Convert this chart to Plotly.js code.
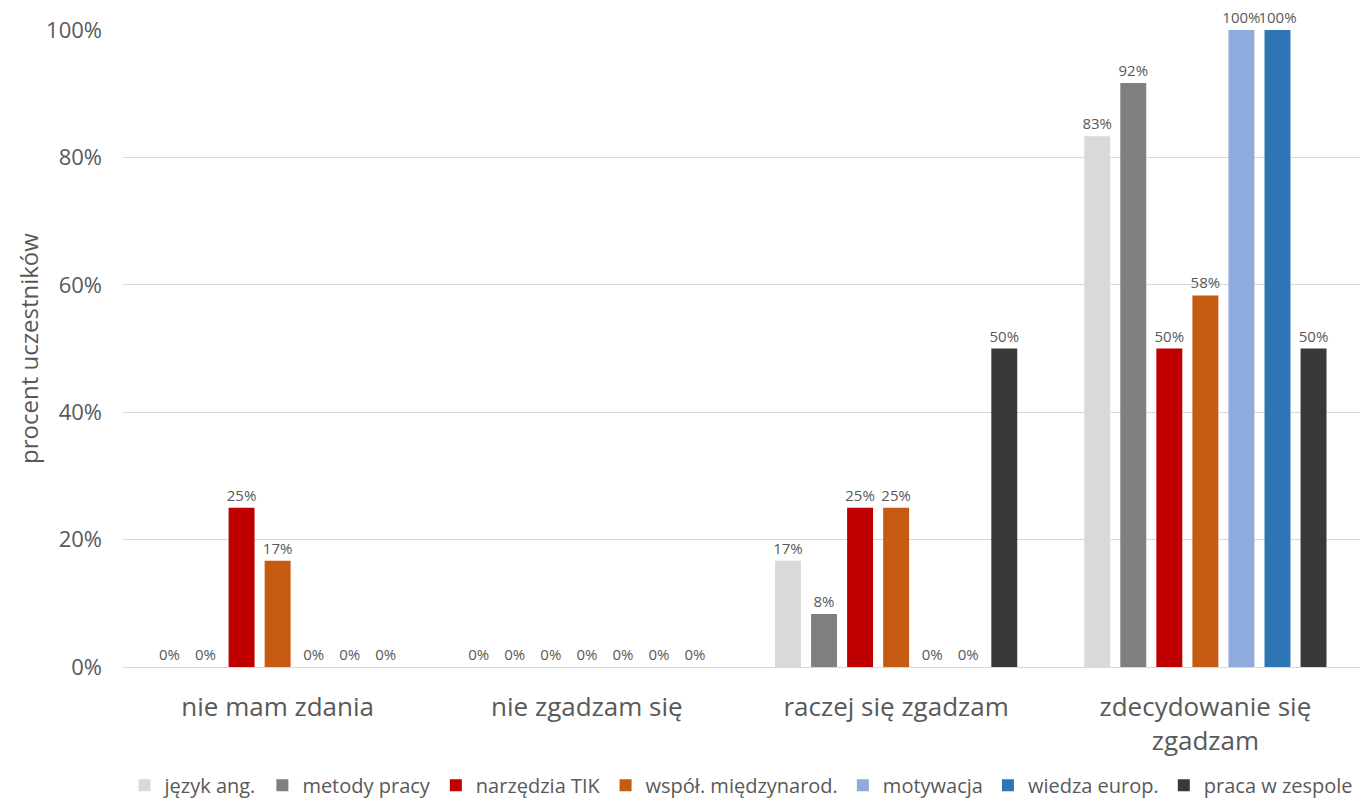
<!DOCTYPE html>
<html>
<head>
<meta charset="utf-8">
<script src="https://cdn.plot.ly/plotly-3.0.1.min.js"></script>
<style>html,body{margin:0;padding:0;background:#fff;}#chart{width:1362px;height:801px;}</style>
</head>
<body>
<div id="chart"></div>
<script>
const categories = ["nie mam zdania", "nie zgadzam się", "raczej się zgadzam", "zdecydowanie się<br>zgadzam"];
const seriesNames = ["język ang.", "metody pracy", "narzędzia TIK", "współ. międzynarod.", "motywacja", "wiedza europ.", "praca w zespole"];
const jezykAng = [0, 0, 16.67, 83.33];
const metodyPracy = [0, 0, 8.33, 91.67];
const narzedziaTIK = [25, 0, 25, 50];
const wspolMiedzynarod = [16.67, 0, 25, 58.33];
const motywacja = [0, 0, 0, 100];
const wiedzaEurop = [0, 0, 0, 100];
const pracaWZespole = [0, 0, 50, 50];
const seriesValues = [jezykAng, metodyPracy, narzedziaTIK, wspolMiedzynarod, motywacja, wiedzaEurop, pracaWZespole];
const colors = ["#D9D9D9", "#7F7F7F", "#C00000", "#C55A11", "#8FAADC", "#2E75B6", "#3B3838"];
const yTicks = [0, 20, 40, 60, 80, 100];
const yTickLabels = ["0%", "20%", "40%", "60%", "80%", "100%"];

const font = "Open Sans, Noto Sans, sans-serif";
const traces = seriesNames.map((name, i) => ({
  type: "bar",
  name: name,
  x: categories,
  y: seriesValues[i],
  marker: {color: colors[i]},
  text: seriesValues[i].map(v => Math.round(v) + "%"),
  textposition: "outside",
  constraintext: "none",
  cliponaxis: false,
  textfont: {size: 15, color: "#595959", family: font},
  hoverinfo: "name+y"
}));

const layout = {
  width: 1362,
  height: 801,
  margin: {l: 123, r: 2, t: 30, b: 134, autoexpand: false},
  paper_bgcolor: "#ffffff",
  plot_bgcolor: "#ffffff",
  barmode: "group",
  bargap: 0.184,
  bargroupgap: 0.28,
  font: {family: font, color: "#595959"},
  xaxis: {
    tickfont: {size: 26, color: "#595959", family: font},
    showline: false,
    ticks: "",
    showgrid: false,
    ticklabelstandoff: 22,
    automargin: false
  },
  yaxis: {
    range: [0, 100],
    tickvals: yTicks,
    ticktext: yTickLabels,
    tickfont: {size: 22, color: "#595959", family: font},
    gridcolor: "#D9D9D9",
    gridwidth: 1,
    zeroline: true,
    zerolinecolor: "#D9D9D9",
    zerolinewidth: 1,
    ticks: "",
    ticklen: 0,
    ticklabelstandoff: 20,
    automargin: false,
    title: {text: "procent uczestników", font: {size: 24, color: "#595959", family: font}, standoff: 0}
  },
  showlegend: true,
  legend: {
    orientation: "h",
    x: 0.5,
    xanchor: "center",
    xref: "paper",
    y: -0.155,
    yanchor: "top",
    font: {size: 20, color: "#595959", family: font},
    itemwidth: 30,
    tracegroupgap: 0,
    traceorder: "normal"
  }
};

Plotly.newPlot("chart", traces, layout, {displayModeBar: false, responsive: false});
</script>
</body>
</html>
